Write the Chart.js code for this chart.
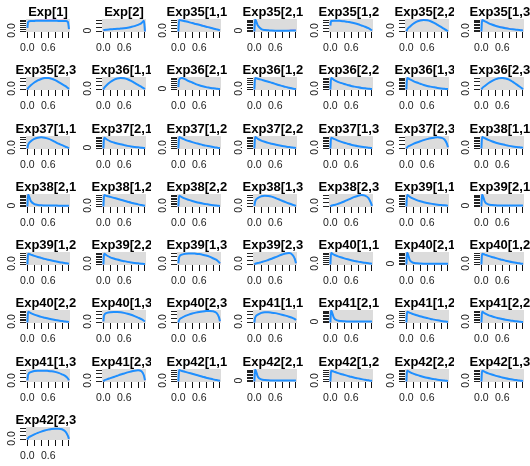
<!DOCTYPE html>
<html><head><meta charset="utf-8">
<script src="https://cdn.jsdelivr.net/npm/chart.js@4"></script>
<style>
html,body{margin:0;padding:0;background:#fff;}
#wrap{position:relative;width:530px;height:466px;overflow:hidden;}
#wrap canvas{position:absolute;}
</style></head><body><div id="wrap"></div>
<script>
// panel titles (clipped like the original)
const titles = ["Exp[1]","Exp[2]","Exp35[1,1]","Exp35[2,1]","Exp35[1,2]","Exp35[2,2]","Exp35[1,3]",
"Exp35[2,3]","Exp36[1,1]","Exp36[2,1]","Exp36[1,2]","Exp36[2,2]","Exp36[1,3]","Exp36[2,3]",
"Exp37[1,1]","Exp37[2,1]","Exp37[1,2]","Exp37[2,2]","Exp37[1,3]","Exp37[2,3]","Exp38[1,1]",
"Exp38[2,1]","Exp38[1,2]","Exp38[2,2]","Exp38[1,3]","Exp38[2,3]","Exp39[1,1]","Exp39[2,1]",
"Exp39[1,2]","Exp39[2,2]","Exp39[1,3]","Exp39[2,3]","Exp40[1,1]","Exp40[2,1]","Exp40[1,2]",
"Exp40[2,2]","Exp40[1,3]","Exp40[2,3]","Exp41[1,1]","Exp41[2,1]","Exp41[1,2]","Exp41[2,2]",
"Exp41[1,3]","Exp41[2,3]","Exp42[1,1]","Exp42[2,1]","Exp42[1,2]","Exp42[2,2]","Exp42[1,3]",
"Exp42[2,3]"];

// x sample positions shared by all curves
const xs = [0, 0.02, 0.1, 0.2, 0.3, 0.4, 0.5, 0.6, 0.7, 0.8, 0.9, 1.0, 1.1, 1.17, 1.2];
const xTicks = [0, 0.2, 0.4, 0.6, 0.8, 1.0, 1.2];
const xTickLabels = ["0.0", "", "", "0.6", "", "", ""];

// blue density curves (relative height in panel)
const blueCurves = [
[0.3,0.8,0.87,0.88,0.9,0.9,0.9,0.9,0.9,0.9,0.88,0.88,0.87,0.8,0.2],
[0.1,0.12,0.15,0.18,0.2,0.22,0.25,0.28,0.32,0.38,0.45,0.55,0.7,0.9,0.0],
[0,0.95,0.92,0.85,0.78,0.7,0.63,0.56,0.48,0.4,0.33,0.25,0.18,0.13,0.1],
[0,1.0,0.5,0.2,0.12,0.1,0.08,0.07,0.07,0.07,0.07,0.07,0.08,0.08,0.08],
[0.5,0.88,0.9,0.9,0.88,0.85,0.8,0.75,0.68,0.6,0.5,0.4,0.28,0.15,0.08],
[0.02,0.15,0.4,0.65,0.82,0.92,0.95,0.93,0.85,0.72,0.55,0.38,0.2,0.08,0.03],
[0,0.95,0.85,0.7,0.58,0.48,0.4,0.33,0.27,0.22,0.18,0.15,0.12,0.1,0.09],

[0,0.12,0.35,0.58,0.76,0.88,0.95,0.95,0.9,0.78,0.62,0.45,0.28,0.12,0.05],
[0,0.12,0.38,0.62,0.8,0.91,0.95,0.93,0.85,0.72,0.55,0.38,0.22,0.1,0.04],
[0.2,0.8,0.95,0.85,0.7,0.58,0.45,0.35,0.27,0.2,0.15,0.1,0.07,0.05,0.05],
[0,0.95,0.9,0.82,0.73,0.65,0.56,0.47,0.38,0.3,0.22,0.15,0.08,0.05,0.04],
[0,0.95,0.8,0.65,0.55,0.46,0.38,0.3,0.24,0.18,0.13,0.1,0.07,0.05,0.04],
[0,0.95,0.85,0.7,0.58,0.48,0.38,0.3,0.24,0.18,0.13,0.09,0.06,0.04,0.03],
[0,0.1,0.3,0.52,0.7,0.84,0.93,0.96,0.92,0.82,0.65,0.45,0.25,0.1,0.03],

[0,0.3,0.6,0.8,0.9,0.93,0.9,0.82,0.7,0.55,0.4,0.28,0.15,0.07,0.03],
[0,0.9,0.75,0.6,0.5,0.42,0.35,0.28,0.22,0.17,0.13,0.1,0.07,0.05,0.05],
[0,0.95,0.85,0.72,0.62,0.53,0.45,0.38,0.3,0.24,0.18,0.12,0.08,0.05,0.04],
[0,0.95,0.8,0.66,0.56,0.47,0.4,0.33,0.27,0.21,0.16,0.12,0.08,0.06,0.05],
[0,0.9,0.8,0.68,0.57,0.48,0.4,0.32,0.25,0.19,0.14,0.1,0.07,0.05,0.04],
[0,0.1,0.25,0.38,0.5,0.6,0.7,0.78,0.85,0.9,0.93,0.9,0.75,0.4,0.1],
[0,0.95,0.85,0.72,0.6,0.5,0.42,0.35,0.28,0.22,0.17,0.13,0.1,0.08,0.07],

[0,1.0,0.45,0.2,0.13,0.1,0.09,0.08,0.08,0.08,0.07,0.07,0.07,0.07,0.07],
[0,0.95,0.88,0.8,0.72,0.64,0.56,0.48,0.4,0.32,0.25,0.18,0.12,0.08,0.06],
[0,0.9,0.78,0.65,0.55,0.46,0.38,0.31,0.25,0.2,0.15,0.11,0.08,0.06,0.05],
[0.05,0.4,0.7,0.85,0.9,0.88,0.82,0.72,0.6,0.48,0.36,0.25,0.15,0.08,0.05],
[0,0.05,0.12,0.2,0.3,0.42,0.55,0.68,0.8,0.9,0.95,0.9,0.7,0.3,0.05],
[0,0.95,0.8,0.65,0.53,0.44,0.36,0.3,0.24,0.19,0.15,0.12,0.1,0.08,0.07],
[0,1.0,0.4,0.18,0.12,0.1,0.09,0.08,0.08,0.08,0.08,0.08,0.08,0.08,0.08],

[0,0.9,0.82,0.72,0.63,0.55,0.47,0.4,0.33,0.27,0.21,0.16,0.11,0.08,0.06],
[0,0.9,0.75,0.6,0.5,0.41,0.34,0.28,0.22,0.17,0.13,0.1,0.07,0.05,0.04],
[0.1,0.6,0.82,0.9,0.92,0.92,0.9,0.87,0.82,0.75,0.65,0.52,0.38,0.2,0.1],
[0,0.05,0.12,0.2,0.28,0.38,0.48,0.6,0.72,0.83,0.92,0.95,0.8,0.45,0.1],
[0,0.95,0.82,0.7,0.6,0.51,0.43,0.36,0.3,0.24,0.19,0.14,0.1,0.08,0.06],
[0,1.0,0.35,0.15,0.1,0.08,0.07,0.07,0.07,0.07,0.07,0.07,0.07,0.07,0.07],
[0,0.9,0.82,0.72,0.63,0.55,0.47,0.39,0.32,0.25,0.19,0.14,0.1,0.07,0.05],

[0,0.9,0.78,0.66,0.56,0.47,0.4,0.33,0.27,0.21,0.16,0.12,0.08,0.06,0.05],
[0.1,0.6,0.8,0.85,0.87,0.87,0.85,0.8,0.73,0.64,0.53,0.41,0.28,0.15,0.08],
[0,0.2,0.4,0.55,0.66,0.75,0.82,0.88,0.92,0.95,0.96,0.93,0.8,0.45,0.1],
[0,0.4,0.65,0.8,0.85,0.85,0.82,0.78,0.72,0.65,0.57,0.48,0.38,0.28,0.2],
[0,1.0,0.4,0.18,0.12,0.1,0.09,0.08,0.08,0.08,0.08,0.08,0.08,0.08,0.08],
[0,0.9,0.8,0.7,0.6,0.52,0.44,0.37,0.3,0.24,0.18,0.13,0.09,0.07,0.05],
[0,0.9,0.75,0.62,0.52,0.43,0.36,0.29,0.23,0.18,0.14,0.1,0.07,0.05,0.04],

[0.1,0.55,0.78,0.87,0.9,0.9,0.9,0.88,0.85,0.8,0.72,0.6,0.45,0.25,0.1],
[0,0.08,0.18,0.28,0.38,0.48,0.58,0.67,0.76,0.84,0.9,0.93,0.85,0.5,0.1],
[0,0.95,0.88,0.8,0.72,0.64,0.56,0.48,0.4,0.32,0.25,0.18,0.12,0.08,0.05],
[0,1.0,0.4,0.18,0.12,0.1,0.09,0.08,0.08,0.08,0.08,0.08,0.08,0.08,0.08],
[0,0.9,0.82,0.72,0.63,0.55,0.47,0.39,0.32,0.26,0.2,0.14,0.1,0.07,0.05],
[0,0.9,0.78,0.65,0.55,0.46,0.38,0.31,0.25,0.2,0.15,0.11,0.08,0.06,0.05],
[0,0.9,0.8,0.68,0.58,0.49,0.41,0.34,0.27,0.21,0.16,0.12,0.08,0.06,0.05],

[0,0.12,0.28,0.42,0.55,0.66,0.75,0.82,0.88,0.9,0.9,0.85,0.65,0.3,0.05]
];

// pink curves where they visibly differ from blue (others lie under the blue line)
const pinkCurves = {
0: [0.3,0.82,0.9,0.92,0.94,0.95,0.93,0.96,0.95,0.94,0.92,0.94,0.92,0.82,0.2],
2: [0,0.97,0.94,0.86,0.79,0.72,0.65,0.59,0.52,0.43,0.35,0.27,0.19,0.13,0.1],
3: [0,1.0,0.52,0.2,0.12,0.1,0.08,0.07,0.07,0.07,0.08,0.1,0.12,0.12,0.1],
5: [0.02,0.16,0.43,0.68,0.86,0.96,0.99,0.96,0.86,0.72,0.55,0.38,0.2,0.08,0.03],
6: [0,0.97,0.87,0.72,0.6,0.5,0.42,0.36,0.31,0.26,0.2,0.15,0.12,0.1,0.09],
7: [0,0.12,0.36,0.6,0.79,0.91,0.98,0.98,0.92,0.8,0.64,0.46,0.28,0.12,0.05]
};

// number of y tick marks per panel and the label at zero
const yTickCounts = [7,4,5,9,5,4,9, 4,4,7,6,8,9,4, 5,8,7,8,8,4,8, 9,6,8,5,4,8,9,
  6,8,4,4,7,9,6, 8,4,4,4,9,6,8, 4,4,6,9,6,8,8, 4];
const yZeroLabels = titles.map(t => (t === "Exp[2]" || t.indexOf("[2,1") > 0) ? "0" : "0.0");
const yTickTop = 0.95;

const W = 530, H = 466, NC = 7, NR = 8;
const cw = W / NC, ch = H / NR;
const wrap = document.getElementById('wrap');

const decoPlugin = {
  id: 'deco',
  beforeDatasetsDraw(chart) {
    const a = chart.chartArea, ctx = chart.ctx;
    ctx.save();
    ctx.fillStyle = '#DCDCDC';
    ctx.fillRect(a.left, a.top, a.right - a.left, a.bottom - a.top);
    ctx.restore();
  },
  afterDraw(chart) {
    const a = chart.chartArea, ctx = chart.ctx, o = chart.options.plugins.deco;
    ctx.save();
    ctx.fillStyle = '#000';
    ctx.font = 'bold 13px "Liberation Sans", Arial, sans-serif';
    ctx.textAlign = 'center';
    ctx.textBaseline = 'middle';
    ctx.fillText(o.title, (a.left + a.right) / 2, 12);
    const y0 = chart.scales.y.getPixelForValue(0);
    ctx.translate(12, y0 - 1);
    ctx.rotate(-Math.PI / 2);
    ctx.font = '10.5px "Liberation Sans", Arial, sans-serif';
    ctx.fillStyle = '#222';
    ctx.fillText(o.ylab, 0, 0);
    ctx.restore();
  }
};

titles.forEach((t, i) => {
  const c = i % NC, r = Math.floor(i / NC);
  const cv = document.createElement('canvas');
  const left = Math.round(c * cw), top = Math.round(r * ch);
  const w = Math.round((c + 1) * cw) - left;
  cv.width = w; cv.height = 58;
  cv.style.left = left + 'px'; cv.style.top = top + 'px';
  cv.style.width = w + 'px'; cv.style.height = '58px';
  wrap.appendChild(cv);
  const blue = blueCurves[i];
  const pink = pinkCurves[i] || blue;
  const n = yTickCounts[i];
  const yT = [];
  for (let k = 0; k < n; k++) yT.push(k * yTickTop / (n - 1));
  new Chart(cv, {
    type: 'line',
    data: {
      datasets: [
        { data: xs.map((x, k) => ({ x, y: blue[k] })), borderColor: '#1E90FF', borderWidth: 2, order: 0 },
        { data: xs.map((x, k) => ({ x, y: pink[k] })), borderColor: '#FF6EB4', borderWidth: 1, order: 1 }
      ]
    },
    options: {
      animation: false, responsive: false, devicePixelRatio: 1,
      layout: { padding: { top: 19, right: w - 70, left: 0, bottom: 0 } },
      elements: { point: { radius: 0 }, line: { cubicInterpolationMode: 'monotone', tension: 0.4 } },
      plugins: { legend: { display: false }, tooltip: { enabled: false }, deco: { title: t, ylab: yZeroLabels[i] } },
      scales: {
        x: {
          type: 'linear', min: -0.04, max: 1.23,
          afterBuildTicks: s => { s.ticks = xTicks.map(v => ({ value: v })); },
          afterFit: s => { s.height = 26; },
          ticks: { autoSkip: false, maxRotation: 0, minRotation: 0, padding: 4, color: '#222',
            font: { size: 10.5, family: '"Liberation Sans", Arial, sans-serif' },
            callback: (v, k) => xTickLabels[k] },
          grid: { drawOnChartArea: false, drawTicks: true, tickLength: 6, color: '#111', lineWidth: 1 },
          border: { display: false }
        },
        y: {
          type: 'linear', min: -0.04, max: 1.04,
          afterBuildTicks: s => { s.ticks = yT.map(v => ({ value: v })); },
          afterFit: s => { s.width = 26; },
          ticks: { display: false },
          grid: { drawOnChartArea: false, drawTicks: true, tickLength: 6, color: '#222', lineWidth: 1 },
          border: { display: false }
        }
      }
    },
    plugins: [decoPlugin]
  });
});
</script></body></html>
